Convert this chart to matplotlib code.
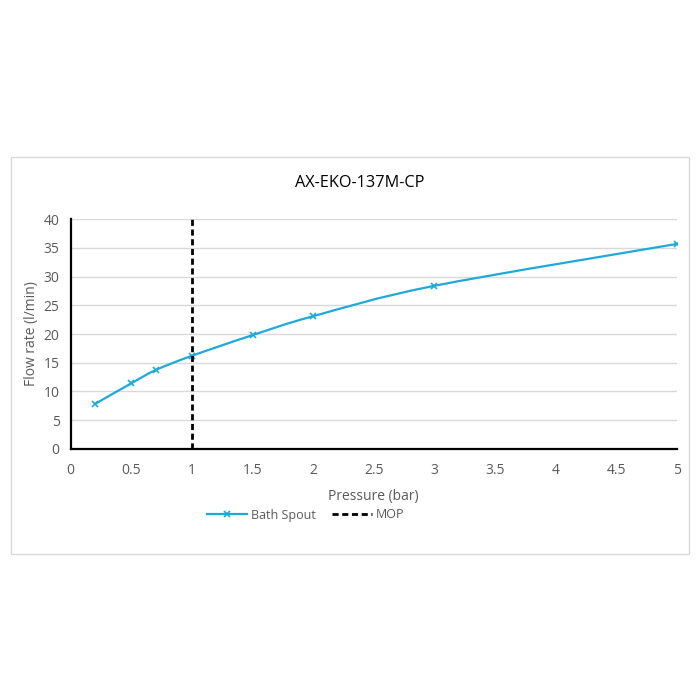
import matplotlib.pyplot as plt
from matplotlib.path import Path
from matplotlib.patches import PathPatch, Rectangle
from matplotlib.lines import Line2D

# Data
pressure = [0.2, 0.5, 0.7, 1.0, 1.5, 2.0, 3.0, 5.0]
flow = [7.8, 11.4, 13.7, 16.2, 19.8, 23.1, 28.4, 35.7]
mop = 1.0
title = 'AX-EKO-137M-CP'

blue = '#1fa9d8'
grey_txt = '#595959'
plt.rcParams['font.family'] = ['Open Sans', 'DejaVu Sans']

fig = plt.figure(figsize=(7, 7), dpi=100)
fig.patch.set_facecolor('white')

# outer chart frame
fig.patches.append(Rectangle((11/700, 1-554/700), 678/700, 397/700, transform=fig.transFigure,
                             fill=False, edgecolor='#d9d9d9', lw=1))

ax = fig.add_axes([70.7/700, 1-448.7/700, 606/700, 229.4/700])
ax.set_xlim(0, 5)
ax.set_ylim(0, 40)
ax.set_xticks([0, 0.5, 1, 1.5, 2, 2.5, 3, 3.5, 4, 4.5, 5])
ax.set_xticklabels(['0', '0.5', '1', '1.5', '2', '2.5', '3', '3.5', '4', '4.5', '5'])
ax.set_yticks(range(0, 45, 5))
ax.tick_params(length=0, colors=grey_txt, labelsize=10)
ax.tick_params(axis='x', pad=10)
ax.tick_params(axis='y', pad=8)
ax.grid(axis='y', color='#d9d9d9', lw=1)
ax.set_axisbelow(True)
for s in ['top', 'right']:
    ax.spines[s].set_visible(False)
for s in ['left', 'bottom']:
    ax.spines[s].set_color('black')
    ax.spines[s].set_linewidth(1.6)

# smoothed line (Excel-like bezier through the points)
pts = list(zip(pressure, flow))
verts = [pts[0]]
codes = [Path.MOVETO]
n = len(pts)
for i in range(n - 1):
    p0 = pts[i - 1] if i > 0 else pts[i]
    p1 = pts[i]
    p2 = pts[i + 1]
    p3 = pts[i + 2] if i + 2 < n else pts[i + 1]
    c1 = (p1[0] + (p2[0] - p0[0]) / 6, p1[1] + (p2[1] - p0[1]) / 6)
    c2 = (p2[0] - (p3[0] - p1[0]) / 6, p2[1] - (p3[1] - p1[1]) / 6)
    verts += [c1, c2, p2]
    codes += [Path.CURVE4] * 3
ax.add_patch(PathPatch(Path(verts, codes), fill=False, edgecolor=blue, lw=1.6, zorder=3))
ax.plot(pressure, flow, ls='none', marker='x', color=blue, ms=5, mew=1.2, zorder=4)

ax.axvline(mop, color='black', lw=2, ls=(0, (2.2, 1.3)), zorder=5)

ax.set_xlabel('Pressure (bar)', color=grey_txt, fontsize=10, labelpad=8)
ax.set_ylabel('Flow rate (l/min)', color=grey_txt, fontsize=10, labelpad=3)

fig.text(360/700, 1-183/700, title, ha='center', va='center', fontsize=11.7, color='black')

handles = [Line2D([], [], color=blue, lw=1.6, marker='x', ms=5, mew=1.2),
           Line2D([], [], color='black', lw=2, ls=(0, (2.2, 1.3)))]
fig.legend(handles, ['Bath Spout', 'MOP'], loc='center', bbox_to_anchor=(306/700, 1-515/700),
           ncol=2, frameon=False, fontsize=9, labelcolor=grey_txt, handlelength=3.2,
           handletextpad=0.3, columnspacing=1.3)

fig.savefig('out.png', dpi=100, facecolor='white')
